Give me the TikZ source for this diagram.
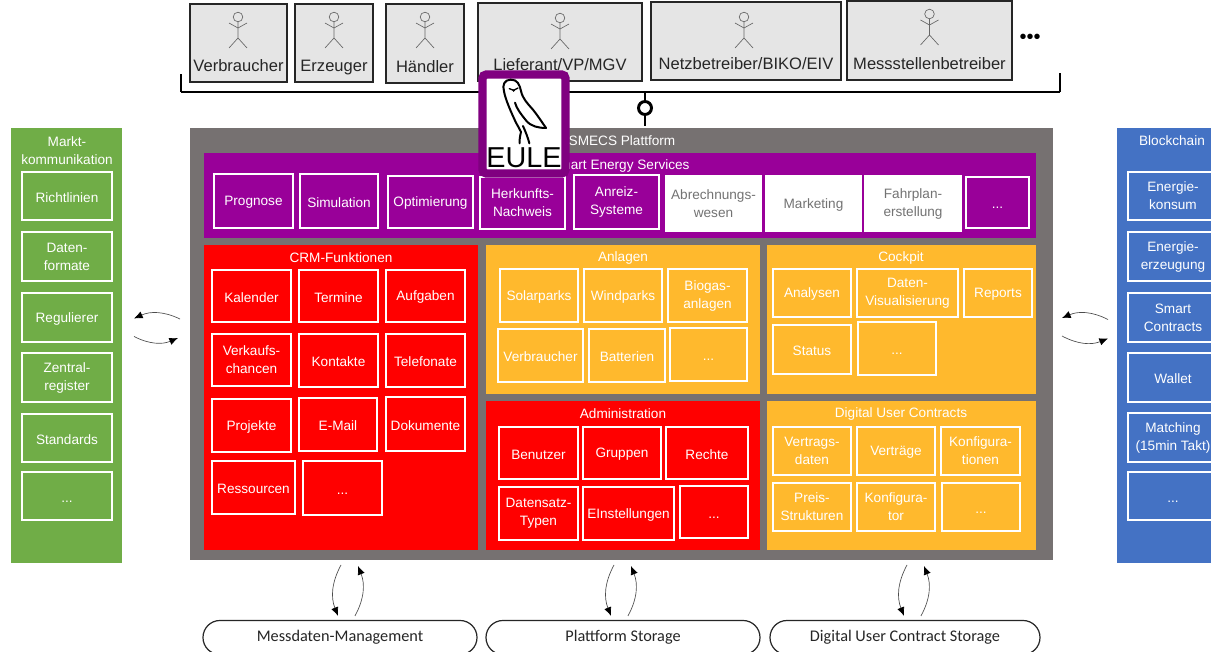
\documentclass[tikz,border=0pt]{standalone}
\usepackage{fontspec}
\setmainfont{Liberation Sans}
\newfontfamily\storagefont{Carlito}
\usetikzlibrary{calc,arrows.meta}
\definecolor{smecsgray}{HTML}{767171}
\definecolor{smecspurple}{HTML}{990099}
\definecolor{eulepurple}{HTML}{800080}
\definecolor{smecsorange}{HTML}{FFB92D}
\definecolor{smecsgreen}{HTML}{70AD47}
\definecolor{smecsblue}{HTML}{4472C4}
\tikzset{
	wh/.style 2 args={minimum width=#1*0.75pt,minimum height=#2*0.75pt},
	panel/.style={anchor=north west,inner sep=0pt,outer sep=0pt},
	heading/.style={text=white,align=center,inner sep=0pt,font=\fontsize{10.2}{13.5}\selectfont},
	tile/.style={panel,draw=white,line width=1.2pt,text=white,align=center,font=\fontsize{10.2}{13.5}\selectfont,execute at begin node={\rule{0pt}{9.3pt}}},
	whitetile/.style={tile,fill=white,text=black!55},
	faint/.style={tile,text=white!75},
	actor/.style={panel,draw=black!85,line width=1.4pt,fill=black!10,text=black!85,font=\fontsize{12.4}{14}\selectfont,text height=43.5pt,text depth=0pt},
	stick/.style={draw=black!60,line width=0.5pt},
	storage/.style={draw=black!85,line width=0.9pt,fill=white,rounded corners=12.7pt,minimum height=34*0.75pt,inner sep=0pt,font=\storagefont\fontsize{12.2}{14}\selectfont,text=black!85},
	flow/.style={draw=black!70,line width=0.5pt,-{Latex[length=6.5pt,width=5.5pt,black]}},
	bus/.style={line width=2.2pt,black}
}
\def\stickfig(#1,#2){\begin{scope}[shift={(#1,#2)}]
	\draw[stick] (0,0) circle (4.8);
	\draw[stick] (0,5) -- (0,21) (-9,24+7) -- (0,21) -- (9,31);
	\draw[stick] (-9,6) -- (0,11) -- (9,6);
\end{scope}}
\def\storagelink(#1)(#2){
	\draw[flow] ($(platform.south -| #1.north)+(#2+3,5)$) to[bend right=25] ($(#1.north)+(#2,-4)$);
	\draw[flow] ($(#1.north)+(#2+17,-4)$) to[bend right=25] ($(platform.south -| #1.north)+(#2+20,6)$);
}

\begin{document}
\begin{tikzpicture}[x=0.75pt,y=-0.75pt]
	\useasboundingbox (0,0) rectangle (1211,652);
	\clip (0,0) rectangle (1211,652);
	%%%%% actors %%%%%
	\node[actor,wh={97}{78}] (verbraucher) at (190,4) {Verbraucher};
	\node[actor,wh={78}{78}] (erzeuger) at (295,4) {Erzeuger};
	\node[actor,wh={78}{79}] (haendler) at (386,4) {Händler};
	\node[actor,wh={164}{78}] (lieferant) at (478,3) {Lieferant/VP/MGV};
	\node[actor,wh={190}{78}] (netz) at (651,2) {Netzbetreiber/BIKO/EIV};
	\node[actor,wh={165}{79}] (mess) at (847,1) {Messstellenbetreiber};
	\stickfig(238,17)
	\stickfig(334,17)
	\stickfig(425,17)
	\stickfig(560,18)
	\stickfig(744,17)
	\stickfig(929.5,14)
	\node[text=black,inner sep=0pt,font=\fontsize{15}{15}\selectfont] (moredots) at (1030,39) {•••};

	%%%%% platform %%%%%
	\node[panel,fill=smecsgray,wh={863}{432}] (platform) at (190,128) {};
	\node[heading] (platformtitle) at (622,141) {SMECS Plattform};

	\coordinate (busleft) at (181,92);
	\coordinate (busright) at (1060,92);
	\coordinate (bustap) at (645,92);
	\draw[line width=0.8pt] (busleft) -- +(0,-18);
	\draw[line width=0.8pt] (busright) -- +(0,-19);
	\draw[bus] (busleft) -- (busright);
	\node[circle,draw=black,line width=2.2pt,fill=white,minimum size=13*0.75pt,inner sep=0pt] (ring) at (645,108) {};
	\draw[bus] (bustap) -- (ring);
	\draw[bus,shorten >=1.5pt] (ring) -- (ring |- platform.north);

	\node[panel,fill=smecspurple,wh={832}{85}] (services) at (204,153) {};
	\node[heading] (servicestitle) at (620,166) {Smart Energy Services};
	\node[tile,wh={79}{54}] (prognose) at (214,174) {Prognose};
	\node[tile,wh={78}{54}] (simulation) at (300,174) {Simulation};
	\node[tile,wh={85}{52}] (optimierung) at (388,176) {Optimierung};
	\node[tile,wh={85}{52}] (herkunft) at (480,177) {Herkunfts-\\Nachweis};
	\node[tile,wh={85}{54}] (anreiz) at (574,175) {Anreiz-\\Systeme};
	\node[whitetile,wh={95}{55}] (abrechnung) at (666,176) {Abrechnungs-\\wesen};
	\node[whitetile,wh={95}{55}] (marketing) at (766,176) {Marketing};
	\node[whitetile,wh={96}{55}] (fahrplan) at (865,176) {Fahrplan-\\erstellung};
	\node[faint,wh={63}{51}] (servicesmore) at (966,177) {...};

	%%%%% crm %%%%%
	\node[panel,fill=red,wh={274}{305}] (crm) at (204,245) {};
	\node[heading] (crmtitle) at (341,257.5) {CRM-Funktionen};
	\node[tile,wh={79}{52}] (kalender) at (212,270) {Kalender};
	\node[tile,wh={79}{52}] (termine) at (299,270) {Termine};
	\node[tile,wh={79}{52}] (aufgaben) at (386,270) {Aufgaben};
	\node[tile,wh={79}{52}] (verkauf) at (212,334) {Verkaufs-\\chancen};
	\node[tile,wh={79}{53}] (kontakte) at (299,334) {Kontakte};
	\node[tile,wh={79}{53}] (telefonate) at (386,334) {Telefonate};
	\node[tile,wh={79}{53}] (projekte) at (212,399) {Projekte};
	\node[tile,wh={78}{53}] (email) at (299,398) {E-Mail};
	\node[tile,wh={79}{54}] (dokumente) at (386,397) {Dokumente};
	\node[tile,wh={83}{53}] (ressourcen) at (212,461) {Ressourcen};
	\node[faint,wh={79}{54}] (crmmore) at (303,461) {...};

	%%%%% anlagen %%%%%
	\node[panel,fill=smecsorange,wh={274}{149}] (anlagen) at (486,245) {};
	\node[heading] (anlagentitle) at (623,257.5) {Anlagen};
	\node[tile,wh={78}{53}] (solar) at (500,269) {Solarparks};
	\node[tile,wh={78}{53}] (wind) at (584,269) {Windparks};
	\node[tile,wh={79}{53}] (biogas) at (668,269) {Biogas-\\anlagen};
	\node[tile,wh={85}{53}] (anlageverbraucher) at (498,329) {Verbraucher};
	\node[tile,wh={76}{53}] (batterien) at (589,329) {Batterien};
	\node[faint,wh={77}{53}] (anlagenmore) at (670,328) {...};

	%%%%% administration %%%%%
	\node[panel,fill=red,wh={274}{149}] (admin) at (486,401) {};
	\node[heading] (admintitle) at (623,413.5) {Administration};
	\node[tile,wh={79}{52}] (benutzer) at (499,427) {Benutzer};
	\node[tile,wh={78}{52}] (gruppen) at (583,427) {Gruppen};
	\node[tile,wh={82}{52}] (rechte) at (666,427) {Rechte};
	\node[tile,wh={79}{53}] (datensatz) at (499,487) {Datensatz-\\Typen};
	\node[tile,wh={91}{53}] (einstellungen) at (583,487) {EInstellungen};
	\node[faint,wh={68}{52}] (adminmore) at (680,486) {...};

	%%%%% cockpit %%%%%
	\node[panel,fill=smecsorange,wh={269}{149}] (cockpit) at (767,245) {};
	\node[heading] (cockpittitle) at (901,257.5) {Cockpit};
	\node[tile,wh={78}{48}] (analysen) at (773,269) {Analysen};
	\node[tile,wh={101}{48}] (visual) at (857,269) {Daten-\\Visualisierung};
	\node[tile,wh={68}{48}] (reports) at (964,269) {Reports};
	\node[tile,wh={78}{49}] (status) at (773,325) {Status};
	\node[faint,wh={78}{53}] (cockpitmore) at (858,322) {...};

	%%%%% contracts %%%%%
	\node[panel,fill=smecsorange,wh={269}{149}] (contracts) at (767,401) {};
	\node[heading] (contractstitle) at (901,413.5) {Digital User Contracts};
	\node[tile,wh={78}{48}] (vertragsdaten) at (773,427) {Vertrags-\\daten};
	\node[tile,wh={78}{48}] (vertraege) at (857,427) {Verträge};
	\node[tile,wh={79}{48}] (konfigurationen) at (941,427) {Konfigura-\\tionen};
	\node[tile,wh={78}{48}] (preis) at (773,483) {Preis-\\Strukturen};
	\node[tile,wh={78}{48}] (konfigurator) at (857,483) {Konfigura-\\tor};
	\node[faint,wh={78}{48}] (contractsmore) at (942,483) {...};

	%%%%% markt %%%%%
	\node[panel,fill=smecsgreen,wh={111}{435}] (markt) at (11,128) {};
	\node[heading] (markttitle) at (67,150.5) {Markt-\\kommunikation};
	\node[tile,wh={90}{48}] (richtlinien) at (22,172) {Richtlinien};
	\node[tile,wh={90}{49}] (datenformate) at (22,232) {Daten-\\formate};
	\node[tile,wh={90}{49}] (regulierer) at (22,293) {Regulierer};
	\node[tile,wh={90}{49}] (zentral) at (22,353) {Zentral-\\register};
	\node[tile,wh={90}{48}] (standards) at (22,414) {Standards};
	\node[faint,wh={90}{48}] (marktmore) at (22,472) {...};

	%%%%% blockchain %%%%%
	\node[panel,fill=smecsblue,wh={111}{435}] (blockchain) at (1117,128) {};
	\node[heading] (blockchaintitle) at (1172,141) {Blockchain};
	\node[tile,wh={90}{48}] (konsum) at (1128,172) {Energie-\\konsum};
	\node[tile,wh={90}{49}] (erzeugung) at (1128,232) {Energie-\\erzeugung};
	\node[tile,wh={90}{49}] (smart) at (1128,293) {Smart\\Contracts};
	\node[tile,wh={90}{49}] (wallet) at (1128,353) {Wallet};
	\node[tile,wh={90}{49}] (matching) at (1128,413) {Matching\\(15min Takt)};
	\node[faint,wh={90}{48}] (blockmore) at (1128,472) {...};

	%%%%% storage %%%%%
	\node[storage,minimum width=274*0.75pt] (messdaten) at (340,637.5) {Messdaten-Management};
	\node[storage,minimum width=274*0.75pt] (plattstore) at (623,637.5) {Plattform Storage};
	\node[storage,minimum width=270*0.75pt] (digistore) at (905,637.5) {Digital User Contract Storage};
	\storagelink(messdaten)(-2)
	\storagelink(plattstore)(-12)
	\storagelink(digistore)(-1)

	\draw[flow] ($(platform.west)+(-10,-25)$) to[bend right=25] ($(markt.east)+(12,-27)$);
	\draw[flow] ($(markt.east)+(12,-9)$) to[bend right=25] ($(platform.west)+(-12,-6)$);
	\draw[flow] ($(blockchain.west)+(-9,-26)$) to[bend right=25] ($(platform.east)+(9,-26)$);
	\draw[flow] ($(platform.east)+(9,-8)$) to[bend right=25] ($(blockchain.west)+(-9,-7)$);

	%%%%% logo %%%%%
	\node[panel,draw=eulepurple,line width=6.3pt,fill=white,rounded corners=3pt,wh={83}{99}] (logo) at (482.5,74.5) {};
	\begin{scope}[shift={(474,66)},x=0.25pt,y=-0.25pt,line width=1.5pt,line cap=round,line join=round]
		\draw (110,41) .. controls (92,41) and (84,56) .. (90,76) .. controls (94,100) and (112,140) .. (125,168) .. controls (132,182) and (138,190) .. (141,198);
		\draw (110,41) .. controls (130,40) and (137,56) .. (141,75) .. controls (146,98) and (160,112) .. (176,130) .. controls (192,150) and (205,170) .. (216,186);
		\draw (216,186) .. controls (195,186) and (170,182) .. (155,162) .. controls (140,143) and (128,128) .. (123,110);
		\draw (141,198) .. controls (138,210) and (136,222) .. (137,232);
		\draw (147,180) .. controls (155,198) and (162,215) .. (166,232);
		\draw[line width=1pt] (106,68) -- (119,73) -- (132,66);
		\fill (113,70) -- (125,70) -- (119,78) -- cycle;
	\end{scope}
	\node[inner sep=0pt,text=black,font=\fontsize{21.6}{22}\selectfont] (euletext) at (524,157.5) {EULE};
\end{tikzpicture}
\end{document}
